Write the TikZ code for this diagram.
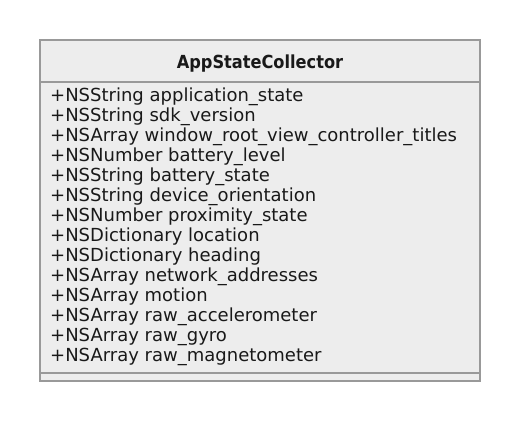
\documentclass[tikz,border=0pt]{standalone}
\usepackage{fontspec}
\setmainfont{DejaVu Sans}
\newfontfamily\condfont{DejaVu Sans Condensed}
\begin{document}
\begin{tikzpicture}[x=1pt,y=-1pt,
  attr/.style={anchor=base west,inner sep=0pt,font=\fontsize{18}{20}\selectfont,text=black!90},
  title/.style={anchor=base,inner sep=0pt,font=\condfont\bfseries\fontsize{18}{20}\selectfont,text=black!90}]
\useasboundingbox (0,0) rectangle (520,422);
\draw[fill=black!7,draw=black!40,line width=1.5pt] (40,40) rectangle (480,381) coordinate (br);
\draw[draw=black!40,line width=1.5pt] (40,82) -- (480,82);
\draw[draw=black!40,line width=1.5pt] (40,373) -- (480,373);
\node[title] (t) at (260,68.7) {AppStateCollector};
\foreach \txt [count=\i from 0] in {
+NSString application\_state,
+NSString sdk\_version,
+NSArray window\_root\_view\_controller\_titles,
+NSNumber battery\_level,
+NSString battery\_state,
+NSString device\_orientation,
+NSNumber proximity\_state,
+NSDictionary location,
+NSDictionary heading,
+NSArray network\_addresses,
+NSArray motion,
+NSArray raw\_accelerometer,
+NSArray raw\_gyro,
+NSArray raw\_magnetometer}
  \node[attr] (a\i) at (50,101.7+20*\i) {\txt};
\end{tikzpicture}
\end{document}
